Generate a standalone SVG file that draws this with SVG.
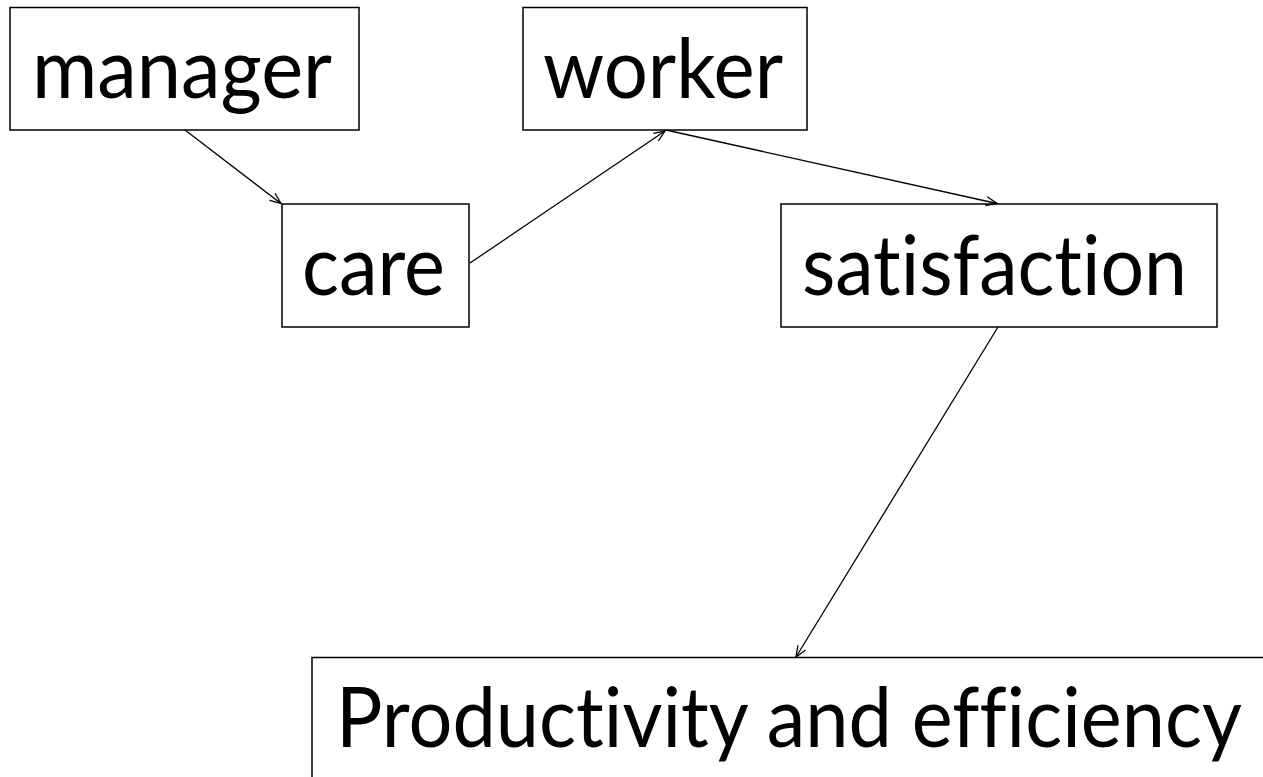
<svg xmlns="http://www.w3.org/2000/svg" width="1263" height="777" viewBox="0 0 1263 777">
<defs>
<style>
.box{fill:#fff;stroke:#000;stroke-width:1.5}
.lbl{font-family:Lato,"Liberation Sans",sans-serif;font-size:83px;fill:#000;font-variant-ligatures:none;font-feature-settings:"liga" 0,"clig" 0}
.conn{stroke:#000;stroke-width:1.3;fill:none;marker-end:url(#arr)}
</style>
<marker id="arr" markerUnits="userSpaceOnUse" markerWidth="14" markerHeight="12" viewBox="0 0 14 12" refX="12" refY="6" orient="auto">
<path d="M1,1.5 L12,6 L1,10.5" fill="none" stroke="#000" stroke-width="1.3"/>
</marker>
</defs>
<rect width="1263" height="777" fill="#fff"/>
<g id="manager"><rect class="box" x="10" y="7.5" width="349" height="122.5"/><text class="lbl" x="32" y="98" textLength="300" lengthAdjust="spacingAndGlyphs">manager</text></g>
<g id="worker"><rect class="box" x="523" y="7.5" width="284" height="122.5"/><text class="lbl" x="543" y="98" textLength="240" lengthAdjust="spacingAndGlyphs">worker</text></g>
<g id="care"><rect class="box" x="282" y="204" width="187" height="123"/><text class="lbl" x="302" y="295" textLength="143" lengthAdjust="spacingAndGlyphs">care</text></g>
<g id="satisfaction"><rect class="box" x="781" y="204" width="436" height="123"/><text class="lbl" x="802" y="295" textLength="385" lengthAdjust="spacingAndGlyphs">satisfaction</text></g>
<g id="productivity"><path d="M1263,657.5 H312 V777" fill="none" stroke="#000" stroke-width="1.5"/><text class="lbl" x="336" y="747" textLength="906" lengthAdjust="spacingAndGlyphs">Productivity and efficiency</text></g>
<g id="connectors">
<line class="conn" x1="185" y1="130" x2="281" y2="203.5"/>
<line class="conn" x1="470" y1="263" x2="665" y2="131"/>
<line class="conn" x1="666" y1="130" x2="997" y2="203.5"/>
<line class="conn" x1="998" y1="327" x2="796" y2="657"/>
</g>
</svg>
